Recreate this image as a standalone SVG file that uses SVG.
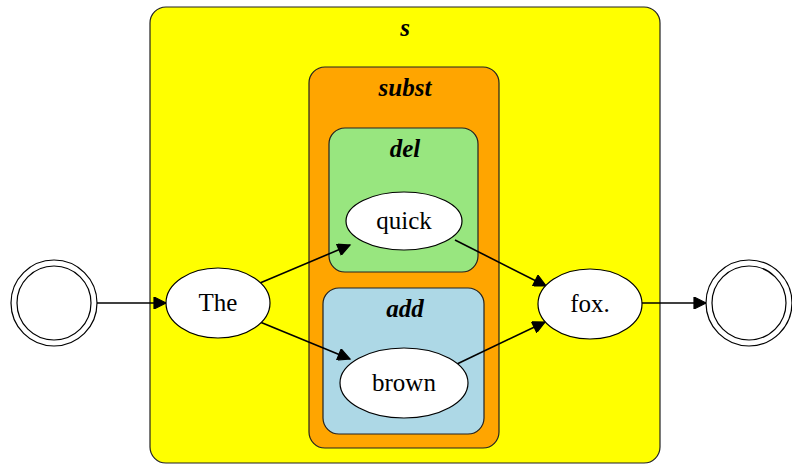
<svg xmlns="http://www.w3.org/2000/svg" width="792" height="465" viewBox="0 0 792 465">
<defs>
<marker id="arr" viewBox="0 0 10 10" refX="10" refY="5" markerWidth="16" markerHeight="12" markerUnits="userSpaceOnUse" orient="auto">
<path d="M0,0 L10,5 L0,10 Z" fill="#000" stroke="#000" stroke-width="1"/>
</marker>
</defs>
<style>
.cl{stroke:#222;stroke-width:1.2}
.ct{font-family:"Liberation Serif",serif;font-size:25px;font-weight:bold;font-style:italic;text-anchor:middle;fill:#000}
.nd{fill:#fff;stroke:#000;stroke-width:1.2}
.nt{font-family:"Liberation Serif",serif;font-size:25px;text-anchor:middle;fill:#000}
.e{stroke:#000;stroke-width:1.6;fill:none;marker-end:url(#arr)}
.dc{fill:#fff;stroke:#000;stroke-width:1.2}
</style>
<rect width="792" height="465" fill="#fff"/>
<g id="cluster_s">
<rect class="cl" x="150" y="7" width="510" height="456" rx="16" fill="#ffff00"/>
<text class="ct" x="405" y="36">s</text>
</g>
<g id="cluster_subst">
<rect class="cl" x="309" y="67" width="190" height="381" rx="16" fill="#ffa500"/>
<text class="ct" x="405" y="96">subst</text>
</g>
<g id="cluster_del">
<rect class="cl" x="329" y="128" width="149" height="144" rx="16" fill="#98e67f"/>
<text class="ct" x="405" y="157">del</text>
</g>
<g id="cluster_add">
<rect class="cl" x="323" y="288" width="161" height="146" rx="16" fill="#add8e6"/>
<text class="ct" x="405" y="317">add</text>
</g>
<g id="connectors">
<line class="e" x1="97" y1="303" x2="166" y2="303"/>
<line class="e" x1="260" y1="283" x2="350" y2="245"/>
<line class="e" x1="260" y1="322" x2="350" y2="359"/>
<line class="e" x1="455" y1="240" x2="546" y2="286"/>
<line class="e" x1="457" y1="364" x2="545" y2="322"/>
<line class="e" x1="642" y1="303" x2="706" y2="303"/>
</g>
<g id="start">
<circle class="dc" cx="54" cy="303" r="43"/>
<circle class="dc" cx="54" cy="303" r="37"/>
</g>
<g id="The">
<ellipse class="nd" cx="218" cy="303" rx="52" ry="35"/>
<text class="nt" x="218" y="311">The</text>
</g>
<g id="quick">
<ellipse class="nd" cx="404" cy="221" rx="58" ry="29"/>
<text class="nt" x="404" y="229">quick</text>
</g>
<g id="brown">
<ellipse class="nd" cx="404" cy="383" rx="64" ry="35"/>
<text class="nt" x="404" y="391">brown</text>
</g>
<g id="fox">
<ellipse class="nd" cx="590" cy="304" rx="52" ry="35"/>
<text class="nt" x="590" y="312">fox.</text>
</g>
<g id="end">
<circle class="dc" cx="749" cy="303" r="43"/>
<circle class="dc" cx="749" cy="303" r="37"/>
</g>
</svg>
